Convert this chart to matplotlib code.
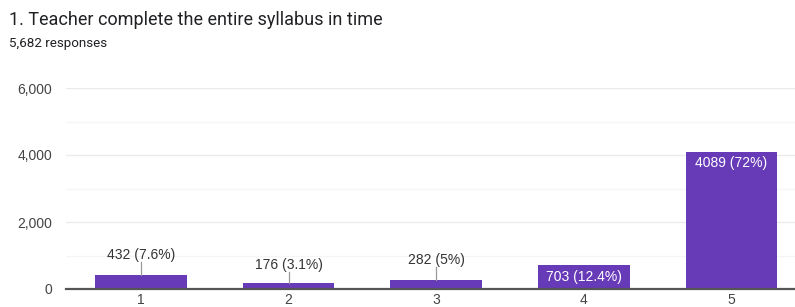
import matplotlib.pyplot as plt
from matplotlib.ticker import MultipleLocator, FuncFormatter

title = "1. Teacher complete the entire syllabus in time"
subtitle = "5,682 responses"
categories = ["1", "2", "3", "4", "5"]
counts = [432, 176, 282, 703, 4089]
percents = ["7.6%", "3.1%", "5%", "12.4%", "72%"]

purple = "#673ab7"
plt.rcParams['font.family'] = ['Liberation Sans', 'DejaVu Sans']

fig = plt.figure(figsize=(7.95, 3.07), dpi=100)
ax = fig.add_axes([66 / 795, 18 / 307, 729 / 795, 201 / 307])

x = list(range(1, len(categories) + 1))
ax.bar(x, counts, width=0.62, color=purple, zorder=3)

ax.set_xlim(0.492, 5.431)
ax.set_ylim(0, 6000)
ax.yaxis.set_major_locator(MultipleLocator(2000))
ax.yaxis.set_minor_locator(MultipleLocator(1000))
ax.yaxis.set_major_formatter(FuncFormatter(lambda v, p: f"{int(v):,}"))
ax.grid(axis='y', which='major', color='#ebebeb', linewidth=1, zorder=0)
ax.grid(axis='y', which='minor', color='#f5f5f5', linewidth=1, zorder=0)
ax.set_xticks(x)
ax.set_xticklabels(categories)
ax.tick_params(axis='both', which='both', length=0, labelsize=10, colors='#444444')
ax.tick_params(axis='x', pad=3)
ax.tick_params(axis='y', pad=10)
for s in ['top', 'right', 'left']:
    ax.spines[s].set_visible(False)
ax.spines['bottom'].set_color('#555555')
ax.spines['bottom'].set_linewidth(1.6)
ax.spines['bottom'].set_zorder(4)

# labels above small bars with leader lines
text_y = {0: 1015, 1: 716, 2: 866}
for i, (c, p) in enumerate(zip(counts, percents)):
    label = f"{c} ({p})"
    if i in text_y:
        ty = text_y[i]
        ax.plot([x[i], x[i]], [c, ty - 200], color='#999999', linewidth=0.9, zorder=4)
        ax.text(x[i], ty, label, ha='center', va='center', fontsize=10, color='#333333')
    else:
        ax.text(x[i], c - 330, label, ha='center', va='center', fontsize=10, color='white', zorder=5)

fig.text(9 / 795, 1 - 20 / 307, title, ha='left', va='center', fontsize=13,
         color='#202124', family=['Roboto', 'DejaVu Sans'])
fig.text(9 / 795, 1 - 44 / 307, subtitle, ha='left', va='center', fontsize=9.6,
         color='#202124', family=['Roboto', 'DejaVu Sans'])

fig.savefig("out.png", dpi=100)
